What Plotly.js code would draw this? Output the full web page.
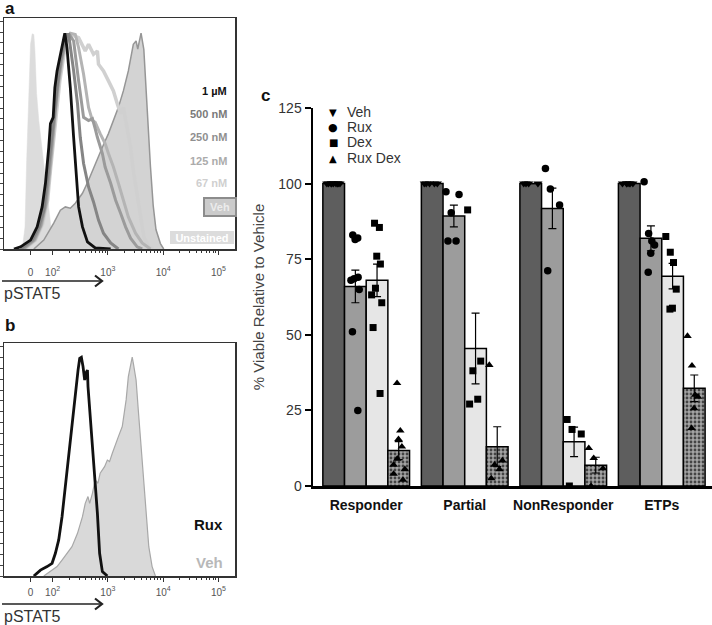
<!DOCTYPE html>
<html><head><meta charset="utf-8">
<script src="https://cdn.plot.ly/plotly-3.0.1.min.js"></script>
<style>html,body{margin:0;padding:0;background:#fff}#chart{width:712px;height:625px}</style>
</head><body><div id="chart"></div>
<script>
// ---------- Panel a: pSTAT5 histograms (x in logicle decades, y in % of max) ----------
const unstX = [1.45,1.50,1.53,1.57,1.60,1.63,1.66,1.68,1.71,1.75,1.81,1.87,1.93,1.99,2.05];
const unstY = [0,10.1,40.8,71.6,94.4,99.2,98.9,91.3,71.6,59.2,45.4,30.3,16.5,5.5,0];
const vehAX = [1.66,1.84,2.02,2.14,2.23,2.32,2.41,2.54,2.65,2.77,2.90,3.01,3.10,3.19,3.28,3.37,3.46,3.51,3.54,3.60,3.65,3.68,3.72,3.77,3.82,3.87,3.95,4.01];
const vehAY = [0,4.1,11.9,17.9,19.4,18.8,21.1,25.7,31.7,39.4,46.9,53.2,59.2,65.3,72.9,82.1,94.4,95.9,92.2,99.5,92,78,58,38,20,9,2.5,0];
const nm67X = [1.50,1.69,1.82,1.91,1.96,2.02,2.07,2.13,2.20,2.27,2.32,2.47,2.59,2.65,2.74,2.81,2.83,2.92,3.01,3.10,3.17,3.23,3.28,3.32,3.35,3.41,3.46,3.53,3.59,3.65,3.74,3.82];
const nm67Y = [0,4.1,11.5,22.5,36.2,50.9,63.8,77.5,89,97.7,98.9,97.4,91.3,94.4,89.8,91.3,85.2,82.1,77.5,72.9,67,62.4,65.3,59.2,56.1,46.9,36.2,24,13.3,5.6,1,0];
const nm125X = [1.48,1.68,1.80,1.89,1.95,2.00,2.05,2.11,2.18,2.25,2.32,2.41,2.47,2.56,2.65,2.72,2.77,2.86,2.95,3.01,3.10,3.19,3.28,3.37,3.50,3.62,3.77];
const nm125Y = [0,4.1,11,21.1,35.3,50,62.8,76.6,88.5,96.8,99.5,98.9,92.8,80.6,65.3,59.2,58.4,53.2,48.6,44,37.8,30.3,22.5,14.8,7.3,2.8,0];
const nm250X = [1.46,1.66,1.78,1.87,1.93,1.98,2.04,2.09,2.16,2.23,2.31,2.38,2.47,2.56,2.65,2.72,2.77,2.81,2.90,2.95,3.05,3.14,3.23,3.32,3.41,3.53,3.62];
const nm250Y = [0,4.1,10.6,20.2,33.9,47.2,61,74.8,87.2,95.4,98.6,95.9,77.5,60.7,59.2,60.1,55.5,51.5,44,37.8,30.3,22.5,16.5,10.2,5,1,0];
const nm500X = [1.42,1.63,1.75,1.84,1.90,1.96,2.02,2.08,2.14,2.20,2.26,2.29,2.38,2.45,2.50,2.56,2.65,2.74,2.83,2.92,3.05,3.19];
const nm500Y = [0,4.1,10.2,17.9,31.7,46.9,60.7,74.4,86.7,94.4,98.9,98.9,82.1,67,51.5,39.4,28.6,21.7,13.3,7.3,2.8,0];
const um1X = [1.30,1.42,1.60,1.72,1.81,1.87,1.93,1.96,2.01,2.04,2.08,2.14,2.19,2.22,2.26,2.32,2.38,2.43,2.47,2.54,2.63,2.77,3.05];
const um1Y = [0,1,4.1,10.2,19.4,30.3,46.9,57.8,60.7,74.4,82.1,89.8,97.4,99.5,92.8,74.4,51.5,31.7,19.4,10.2,3.3,0.5,0];

// ---------- Panel b ----------
const vehBX = [1.84,1.96,2.08,2.17,2.26,2.35,2.45,2.54,2.59,2.64,2.67,2.72,2.77,2.82,2.86,2.94,2.99,3.03,3.08,3.14,3.19,3.26,3.30,3.33,3.37,3.41,3.44,3.46,3.51,3.55,3.62,3.68,3.74,3.80,3.86];
const vehBY = [0,2,4.3,7.3,10.4,13.4,19.5,27.1,33.2,36.3,33.2,37.8,43.9,42.4,47,50,53,52.3,56.1,60.7,63.7,68.3,75.9,80.5,91.1,97.3,100,97.3,89.6,75.9,53,31.7,13.4,4.3,0];
const ruxBX = [1.66,1.78,1.90,1.99,2.05,2.11,2.17,2.23,2.29,2.35,2.41,2.46,2.49,2.52,2.55,2.58,2.60,2.63,2.64,2.67,2.72,2.76,2.81,2.85,2.90,2.99];
const ruxBY = [0,2.7,4.3,5.8,10.4,16.5,27.1,40.8,56.1,71.3,85,94.1,99.5,100,95.7,89.6,92.7,94.1,86.6,75.9,62.2,47,28.7,10.4,2,0];

// axis tick labels for logicle axes
const logTickVals = [1.6, 2, 3, 4, 5];
const logTickText = ['0', '10<sup>2</sup>', '10<sup>3</sup>', '10<sup>4</sup>', '10<sup>5</sup>'];

// ---------- Panel c: bar chart ----------
const categories = ['Responder', 'Partial', 'NonResponder', 'ETPs'];
const seriesNames = ['Veh', 'Rux', 'Dex', 'Rux Dex'];
const seriesGlyphs = ['\u25BC', '\u25CF', '\u25A0', '\u25B2'];
const vehMean = [100, 100, 100, 100];
const vehSem = [0, 0, 0, 0];
const ruxMean = [66, 89.3, 91.8, 81.9];
const ruxSem = [5.4, 3.6, 6.7, 4.1];
const dexMean = [68, 45.5, 14.6, 69.4];
const dexSem = [5.4, 11.7, 4.9, 4.2];
const ruxDexMean = [11.7, 13, 6.9, 32.3];
const ruxDexSem = [3, 6.6, 2.6, 4.4];

const vehPoints = [[100,100,100,100,100,100,100,100,100],[100,100,100,100,100],[100,100,100,100],[100,100,100,100,100,100]];
const ruxPoints = [[83,82,81.5,69,68.5,68,65,51,25],[97.3,96.4,90.4,81,81],[105,98.2,92.9,71.2],[100.6,83.5,81,79.7,77,70.7]];
const dexPoints = [[86.9,85.5,76,73.4,65.4,63.2,60.6,52.4,30.6],[91.3,41.3,38.1,28.7,27.1],[22,18.7,17.2,0],[82.5,77.3,73.9,65.1,58.8,58.5]];
const ruxDexPoints = [[34,18.3,15.5,13,9,7,5.5,4,2],[40,8.4,7,5.5,2.5],[12.5,9.2,5.8,0],[49.6,39.8,30.1,29.5,25.7,19.1]];

const FONT = 'Liberation Sans, Arial, Helvetica, sans-serif';

// minor ticks of the log decades
const minorVals = [];
for (let d = 2; d <= 4; d++) for (let k = 2; k <= 9; k++) minorVals.push(d + Math.log10(k));

function histLine(x, y, color, width, ax) {
  return {type: 'scatter', mode: 'lines', x: x, y: y, xaxis: ax[0], yaxis: ax[1],
          line: {color: color, width: width}, showlegend: false, hoverinfo: 'skip'};
}
function histFill(x, y, fill, lineColor, width, ax) {
  return {type: 'scatter', mode: 'lines', x: x, y: y, xaxis: ax[0], yaxis: ax[1], fill: 'tozeroy',
          fillcolor: fill, line: {color: lineColor, width: width}, showlegend: false, hoverinfo: 'skip'};
}

const A = ['x', 'y'], B = ['x2', 'y2'];
const traces = [
  histFill(unstX, unstY, '#dcdcdc', '#dcdcdc', 0.5, A),
  histFill(vehAX, vehAY, '#d3d3d3', '#969696', 1.5, A),
  histLine(nm67X, nm67Y, '#d0d0d0', 3.5, A),
  histLine(nm125X, nm125Y, '#b4b4b4', 3, A),
  histLine(nm250X, nm250Y, '#9b9b9b', 3, A),
  histLine(nm500X, nm500Y, '#858585', 3, A),
  histLine(um1X, um1Y, '#111111', 2.8, A),
  histFill(vehBX, vehBY, '#d9d9d9', '#a8a8a8', 1.2, B),
  histLine(ruxBX, ruxBY, '#111111', 2.8, B)
];

// bars
function barTrace(name, mean, sem, marker) {
  return {type: 'bar', name: name, x: categories, y: mean, xaxis: 'x3', yaxis: 'y3',
          marker: Object.assign({line: {color: '#000', width: 1.5}}, marker),
          error_y: {type: 'data', array: sem, visible: true, color: '#000', thickness: 1.2, width: 4},
          showlegend: false, hoverinfo: 'skip'};
}
traces.push(barTrace(seriesNames[0], vehMean, vehSem, {color: '#5e5e5e'}));
traces.push(barTrace(seriesNames[1], ruxMean, ruxSem, {color: '#9c9c9c'}));
traces.push(barTrace(seriesNames[2], dexMean, dexSem, {color: '#e6e6e6'}));
traces.push(barTrace(seriesNames[3], ruxDexMean, ruxDexSem,
  {color: '#a6a6a6', pattern: {shape: '.', bgcolor: '#a4a4a4', fgcolor: '#444', size: 4, solidity: 0.4}}));

// individual points (invisible boxes, jittered points)
function pointTrace(name, pts, symbol, size) {
  const xs = [], ys = [];
  pts.forEach((arr, i) => arr.forEach(v => { xs.push(categories[i]); ys.push(v); }));
  return {type: 'box', name: name, x: xs, y: ys, xaxis: 'x3', yaxis: 'y3',
          boxpoints: 'all', jitter: 0.75, pointpos: 0,
          fillcolor: 'rgba(0,0,0,0)', line: {width: 0, color: 'rgba(0,0,0,0)'}, whiskerwidth: 0,
          marker: {symbol: symbol, size: size, color: '#000'}, showlegend: false, hoverinfo: 'skip'};
}
traces.push(pointTrace(seriesNames[0], vehPoints, 'triangle-down', 8));
traces.push(pointTrace(seriesNames[1], ruxPoints, 'circle', 7.5));
traces.push(pointTrace(seriesNames[2], dexPoints, 'square', 7));
traces.push(pointTrace(seriesNames[3], ruxDexPoints, 'triangle-up', 7.5));

const P = v => v / 712, Q = v => 1 - v / 625;

function histX(domain, standoff) {
  return {domain: domain, range: [1.12, 5.30], showline: true, mirror: true, linecolor: '#333', linewidth: 1.5,
          ticks: 'outside', ticklen: 4, tickwidth: 1, tickcolor: '#333', tickvals: logTickVals, ticktext: logTickText,
          tickfont: {family: FONT, size: 10, color: '#555'}, ticklabelstandoff: standoff,
          minor: {tickvals: minorVals, ticks: 'outside', ticklen: 2, tickcolor: '#333'},
          showgrid: false, zeroline: false, automargin: false, fixedrange: true};
}
function histY(domain, anchor) {
  return {domain: domain, range: [0, 106.5], showline: true, mirror: true, linecolor: '#333', linewidth: 1.5,
          ticks: 'outside', ticklen: 3, tickcolor: '#444', tick0: 0, dtick: 5, showticklabels: false,
          showgrid: false, zeroline: false, automargin: false, fixedrange: true, anchor: anchor};
}

const ann = [];
function txt(t, x, y, size, color, opts) {
  ann.push(Object.assign({text: t, x: P(x), y: Q(y), xref: 'paper', yref: 'paper', showarrow: false,
    xanchor: 'center', yanchor: 'middle', font: {family: FONT, size: size, color: color}}, opts || {}));
}
// panel labels
txt('<b>a</b>', 10, 8, 17, '#111');
txt('<b>b</b>', 10, 326, 17, '#111');
txt('<b>c</b>', 265, 95, 17, '#111');
// panel a legend labels
txt('<b>1 µM</b>', 229, 91, 11, '#111', {xanchor: 'right'});
txt('<b>500 nM</b>', 229, 114, 11, '#7a7a7a', {xanchor: 'right'});
txt('<b>250 nM</b>', 229, 137, 11, '#8f8f8f', {xanchor: 'right'});
txt('<b>125 nM</b>', 229, 161, 11, '#ababab', {xanchor: 'right'});
txt('<b>67 nM</b>', 229, 183, 11, '#cfcfcf', {xanchor: 'right'});
txt('<b>Veh</b>', 219.5, 207, 11, '#ececec', {bgcolor: '#cbcbcb', bordercolor: '#8c8c8c', borderwidth: 2, borderpad: 1, width: 28, height: 14});
txt('<b>Unstained</b>', 201.5, 237, 11, '#ffffff', {bgcolor: '#dcdcdc', borderwidth: 0, borderpad: 0, width: 64, height: 13});
// panel b legend labels
txt('<b>Rux</b>', 225, 524, 15, '#111', {xanchor: 'right'});
txt('<b>Veh</b>', 225, 562, 15, '#b8b8b8', {xanchor: 'right'});
// pSTAT5 axis captions
txt('pSTAT5', 2, 293, 16, '#333', {xanchor: 'left'});
txt('pSTAT5', 2, 616, 16, '#333', {xanchor: 'left'});
// panel c legend (symbol + label)
const legY = [112, 127, 142, 158];
const glyphSize = [10, 11, 10, 10];
seriesNames.forEach((n, i) => {
  txt(seriesGlyphs[i], 333, legY[i], glyphSize[i], '#000', {font: {family: 'DejaVu Sans', size: glyphSize[i], color: '#000'}});
  txt(n, 345, legY[i], 14, '#333', {xanchor: 'left'});
});

// arrows under the histograms
const shapes = [];
[281, 604].forEach(yy => {
  shapes.push({type: 'line', xref: 'paper', yref: 'paper', x0: P(2), x1: P(101), y0: Q(yy), y1: Q(yy),
               line: {color: '#222', width: 1.6}});
  shapes.push({type: 'path', xref: 'paper', yref: 'paper',
               path: 'M' + P(95) + ',' + Q(yy - 5.5) + ' L' + P(102) + ',' + Q(yy) + ' L' + P(95) + ',' + Q(yy + 5.5),
               line: {color: '#222', width: 2.2}});
});

const layout = {
  width: 712, height: 625, margin: {l: 0, r: 0, t: 0, b: 0},
  paper_bgcolor: '#fff', plot_bgcolor: 'rgba(0,0,0,0)',
  font: {family: FONT, color: '#333'},
  hovermode: false, showlegend: false,
  barmode: 'group', bargap: 0.12, bargroupgap: 0,
  boxmode: 'group', boxgap: 0.12, boxgroupgap: 0,
  xaxis: histX([P(4), P(235)], 9),
  yaxis: histY([Q(249), Q(18)], 'x'),
  xaxis2: Object.assign(histX([P(4), P(235)], 2), {anchor: 'y2'}),
  yaxis2: histY([Q(576), Q(343)], 'x2'),
  xaxis3: {domain: [P(313), 1], anchor: 'y3', type: 'category', range: [-0.54, 3.51],
           showline: true, linecolor: '#000', linewidth: 2.5, ticks: '', showgrid: false, zeroline: false,
           tickfont: {family: FONT, size: 14, color: '#111', weight: 'bold'}, ticklabelstandoff: 5,
           automargin: false, fixedrange: true},
  yaxis3: {domain: [Q(486), Q(108)], anchor: 'x3', range: [0, 125], tickvals: [0, 25, 50, 75, 100, 125],
           showline: true, linecolor: '#000', linewidth: 2.5, ticks: 'outside', ticklen: 6, tickwidth: 2, tickcolor: '#000',
           tickfont: {family: FONT, size: 14, color: '#333'}, showgrid: false, zeroline: false,
           title: {text: '% Viable Relative to Vehicle', font: {family: FONT, size: 15, color: '#444'}, standoff: 10},
           automargin: false, fixedrange: true},
  annotations: ann,
  shapes: shapes
};

Plotly.newPlot('chart', traces, layout, {displayModeBar: false, staticPlot: true});
</script></body></html>
